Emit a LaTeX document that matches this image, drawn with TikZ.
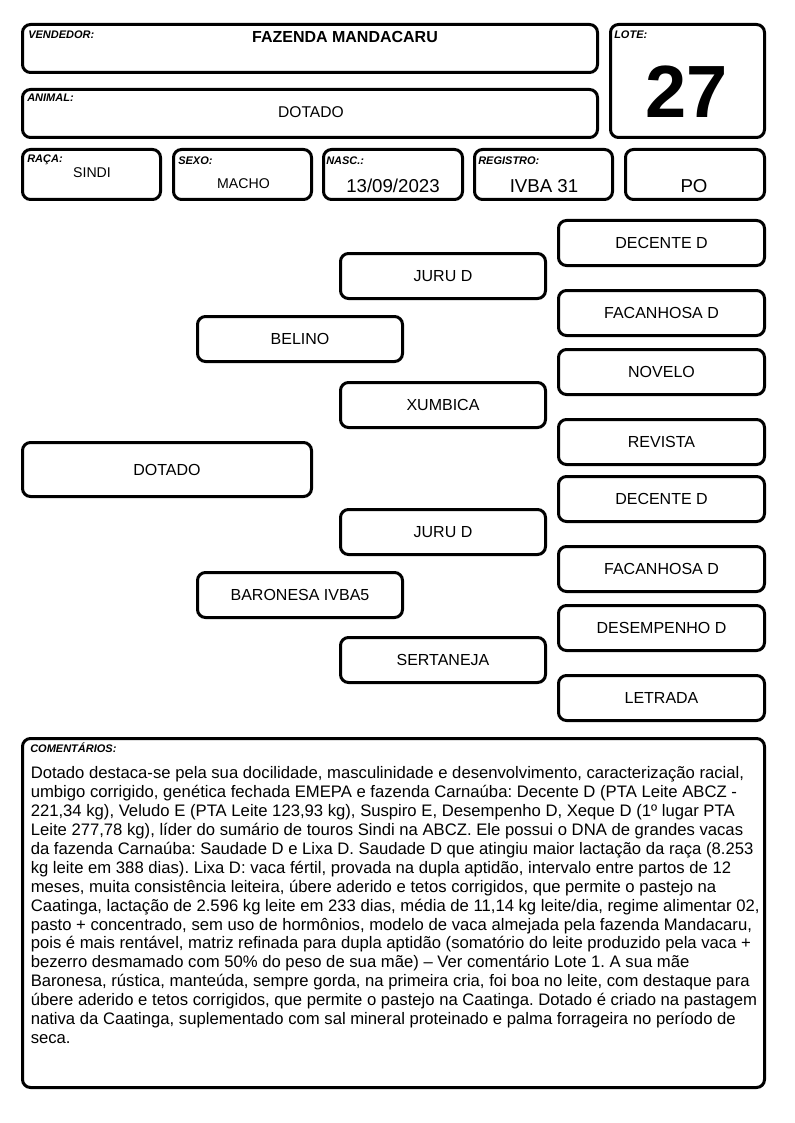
\documentclass[tikz,border=0pt]{standalone}
\usepackage{fontspec}
\setmainfont{Liberation Sans}
\begin{document}
\frenchspacing
\begin{tikzpicture}[x=0.75pt,y=-0.75pt,
  box/.style={draw, line width=2.25pt, rounded corners=6pt, inner sep=0pt, align=center,
    font=\fontsize{12pt}{14pt}\selectfont},
  lbl/.style={anchor=base west, inner sep=0pt, font=\fontsize{8.25pt}{10pt}\selectfont\bfseries\itshape},
  val/.style={anchor=base, inner sep=0pt},
]
\useasboundingbox (0,0) rectangle (794,1123);
\newcommand\mypbox[6]{%
  \node[box, minimum width={(#4-#2-3)*0.75pt}, minimum height={(#5-#3-3)*0.75pt}]
    (#1) at ({(#2+#4)/2},{(#3+#5)/2}) {#6};}
% header
\mypbox{vend}{21}{23}{599}{74}{}
\mypbox{lote}{609}{23}{766}{139}{}
\mypbox{animal}{21}{88}{599}{139}{}
\mypbox{raca}{21}{148}{162}{201}{}
\mypbox{sexo}{172}{148}{313}{201}{}
\mypbox{nasc}{322}{148}{464}{201}{}
\mypbox{reg}{473}{148}{614}{201}{}
\mypbox{po}{624}{148}{766}{201}{}
\node[lbl] (vendl) at (28,39) {VENDEDOR:};
\node[val, font=\fontsize{12pt}{14pt}\selectfont\bfseries] (vendv) at (345,43) {FAZENDA MANDACARU};
\node[lbl] (lotel) at (614,39) {LOTE:};
\node[val, font=\fontsize{55.5pt}{60pt}\selectfont\bfseries] (lotev) at (686.5,118) {27};
\node[lbl] (animall) at (27,102) {ANIMAL:};
\node[val, font=\fontsize{11.7pt}{14pt}\selectfont] (animalv) at (311,118) {DOTADO};
\node[lbl] (racal) at (27,163) {RAÇA:};
\node[val, font=\fontsize{10.6pt}{13pt}\selectfont] (racav) at (92,178) {SINDI};
\node[lbl] (sexol) at (178,165) {SEXO:};
\node[val, font=\fontsize{10.6pt}{13pt}\selectfont] (sexov) at (243.5,189) {MACHO};
\node[lbl] (nascl) at (326,165) {NASC.:};
\node[val, font=\fontsize{14pt}{16pt}\selectfont] (nascv) at (393,193) {13/09/2023};
\node[lbl] (regl) at (478,165) {REGISTRO:};
\node[val, font=\fontsize{14pt}{16pt}\selectfont] (regv) at (544,193) {IVBA 31};
\node[val, font=\fontsize{14pt}{16pt}\selectfont] (pov) at (694,193) {PO};
% pedigree
\mypbox{dotado}{21}{441}{313}{498}{DOTADO}
\mypbox{belino}{196}{315}{404}{363}{BELINO}
\mypbox{baronesa}{196}{571}{404}{619}{BARONESA IVBA5}
\mypbox{juru1}{339}{252}{547}{300}{JURU D}
\mypbox{xumbica}{339}{381}{547}{429}{XUMBICA}
\mypbox{juru2}{339}{508}{547}{556}{JURU D}
\mypbox{sertaneja}{339}{636}{547}{684}{SERTANEJA}
\mypbox{r1}{557}{219}{766}{267}{DECENTE D}
\mypbox{r2}{557}{289}{766}{337}{FACANHOSA D}
\mypbox{r3}{557}{348}{766}{396}{NOVELO}
\mypbox{r4}{557}{418}{766}{466}{REVISTA}
\mypbox{r5}{557}{475}{766}{523}{DECENTE D}
\mypbox{r6}{557}{545}{766}{593}{FACANHOSA D}
\mypbox{r7}{557}{604}{766}{652}{DESEMPENHO D}
\mypbox{r8}{557}{674}{766}{722}{LETRADA}
% comments
\mypbox{com}{21}{737}{766}{1089}{}
\node[lbl] (coml) at (30,752.5) {COMENTÁRIOS:};
\node[anchor=north west, inner sep=0pt, align=left, font=\fontsize{12.5pt}{14.2pt}\selectfont] (comt) at (30.5,766.2) {%
Dotado destaca-se pela sua docilidade, masculinidade e desenvolvimento, caracterização racial,\\
umbigo corrigido, genética fechada EMEPA e fazenda Carnaúba: Decente D (PTA Leite ABCZ -\\
221,34 kg), Veludo E (PTA Leite 123,93 kg), Suspiro E, Desempenho D, Xeque D (1º lugar PTA\\
Leite 277,78 kg), líder do sumário de touros Sindi na ABCZ. Ele possui o DNA de grandes vacas\\
da fazenda Carnaúba: Saudade D e Lixa D. Saudade D que atingiu maior lactação da raça (8.253\\
kg leite em 388 dias). Lixa D: vaca fértil, provada na dupla aptidão, intervalo entre partos de 12\\
meses, muita consistência leiteira, úbere aderido e tetos corrigidos, que permite o pastejo na\\
Caatinga, lactação de 2.596 kg leite em 233 dias, média de 11,14 kg leite/dia, regime alimentar 02,\\
pasto + concentrado, sem uso de hormônios, modelo de vaca almejada pela fazenda Mandacaru,\\
pois é mais rentável, matriz refinada para dupla aptidão (somatório do leite produzido pela vaca +\\
bezerro desmamado com 50\% do peso de sua mãe) – Ver comentário Lote 1. A sua mãe\\
Baronesa, rústica, manteúda, sempre gorda, na primeira cria, foi boa no leite, com destaque para\\
úbere aderido e tetos corrigidos, que permite o pastejo na Caatinga. Dotado é criado na pastagem\\
nativa da Caatinga, suplementado com sal mineral proteinado e palma forrageira no período de\\
seca.};
\end{tikzpicture}
\end{document}
